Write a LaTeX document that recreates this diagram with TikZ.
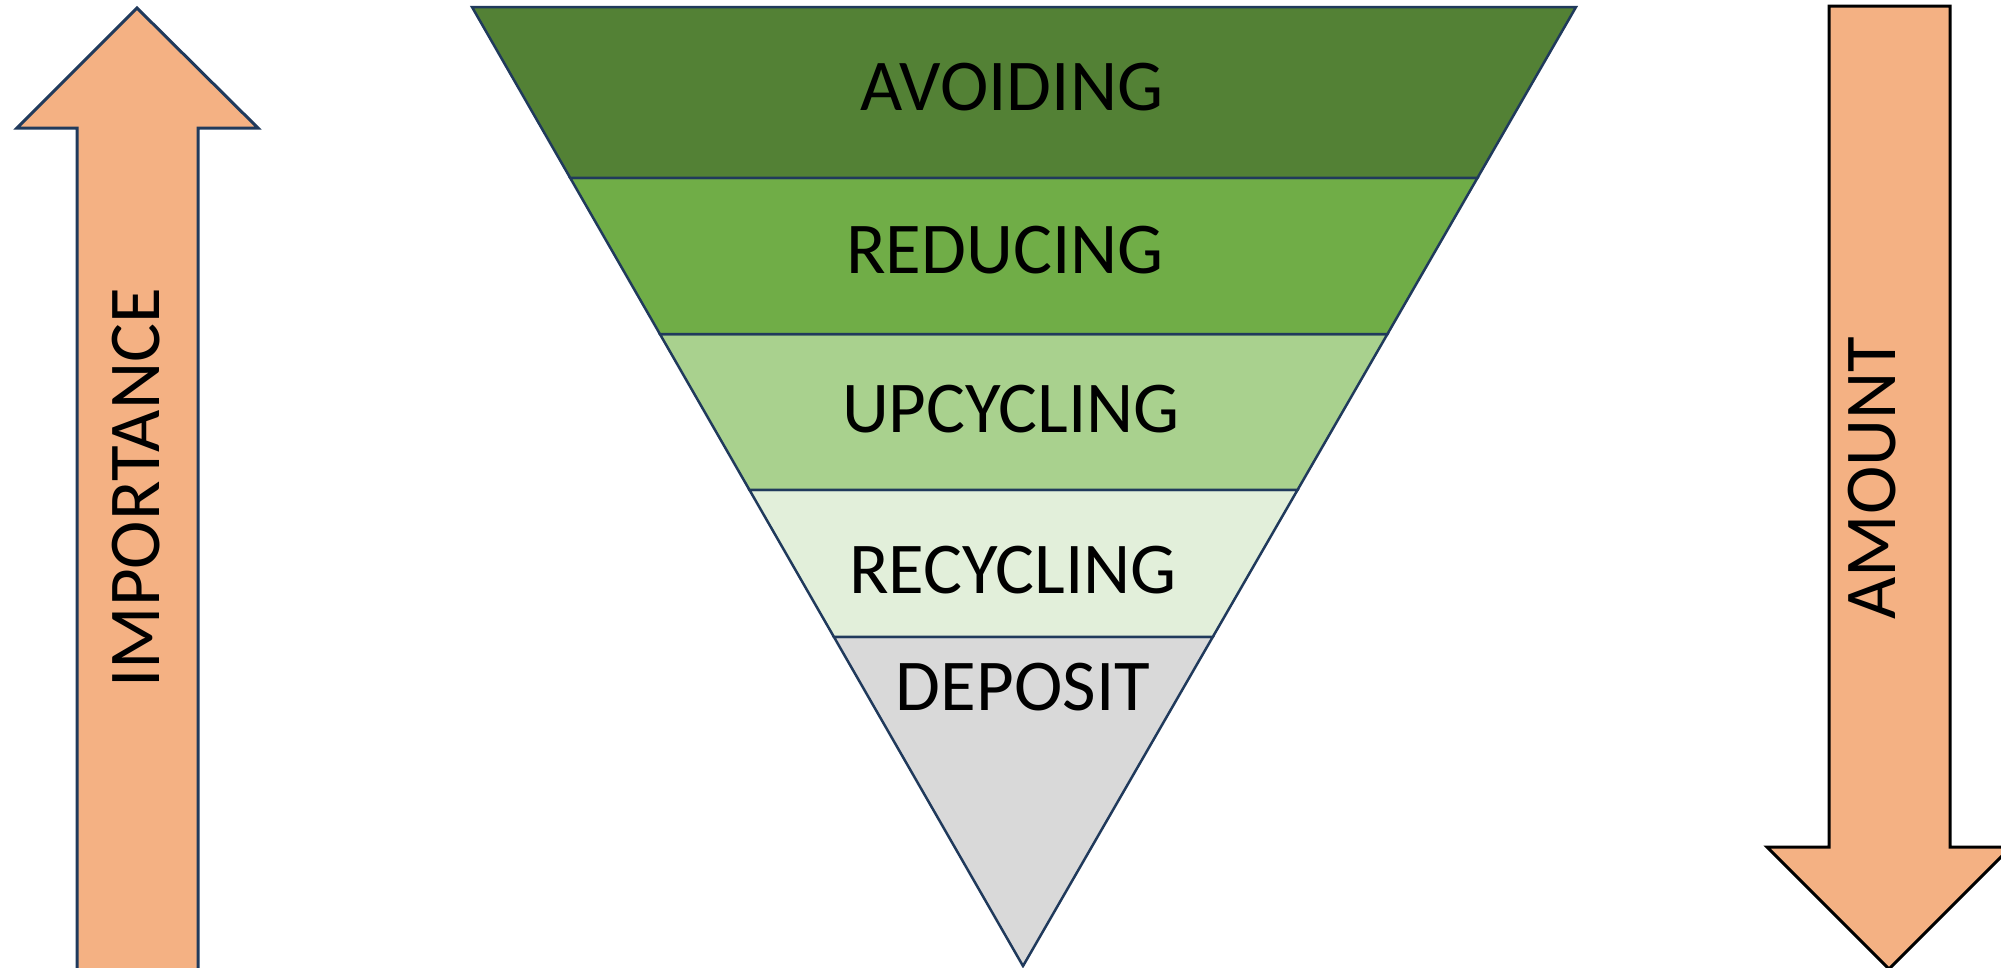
\documentclass[tikz,border=0pt]{standalone}
\usepackage{fontspec}
\setmainfont{Carlito}
\usetikzlibrary{calc}
\definecolor{arrowfill}{HTML}{F4B183}
\definecolor{navy}{HTML}{203A5C}
\definecolor{gA}{HTML}{538135}
\definecolor{gB}{HTML}{70AD47}
\definecolor{gC}{HTML}{A9D18E}
\definecolor{gD}{HTML}{E2EFDA}
\definecolor{gE}{HTML}{D9D9D9}
\tikzset{
  band/.style={draw=navy, line width=2.5pt, line join=miter},
  bigarrow/.style={fill=arrowfill, line width=3pt, line join=miter},
  label/.style={font=\fontsize{73}{80}\selectfont, text=black, anchor=base, inner sep=0pt},
}
\begin{document}
\begin{tikzpicture}[x=1pt,y=-1pt]
\useasboundingbox (0,0) rectangle (2001,967);
\clip (0,0) rectangle (2001,967);
\fill[white] (0,0) rectangle (2001,967);
% importance arrow (up)
\draw[bigarrow, draw=navy] (137,8) -- (258,128) -- (198,128) -- (198,990) -- (77,990) -- (77,128) -- (17,128) -- cycle;
% amount arrow (down)
\draw[bigarrow, draw=black] (1829,6) -- (1950,6) -- (1950,847) -- (2011,847) -- (1889,969) -- (1767,847) -- (1829,847) -- cycle;
% pyramid
\coordinate (TL) at (472,7);
\coordinate (TR) at (1576,7);
\coordinate (B) at (1023,966);
\coordinate (L1) at ($(TL)!0.1783!(B)$);
\coordinate (R1) at ($(TR)!0.1783!(B)$);
\coordinate (L2) at ($(TL)!0.3410!(B)$);
\coordinate (R2) at ($(TR)!0.3410!(B)$);
\coordinate (L3) at ($(TL)!0.5036!(B)$);
\coordinate (R3) at ($(TR)!0.5036!(B)$);
\coordinate (L4) at ($(TL)!0.6569!(B)$);
\coordinate (R4) at ($(TR)!0.6569!(B)$);
\filldraw[band, fill=gE] (L4) -- (R4) -- (B) -- cycle;
\filldraw[band, fill=gD] (L3) -- (R3) -- (R4) -- (L4) -- cycle;
\filldraw[band, fill=gC] (L2) -- (R2) -- (R3) -- (L3) -- cycle;
\filldraw[band, fill=gB] (L1) -- (R1) -- (R2) -- (L2) -- cycle;
\filldraw[band, fill=gA] (TL) -- (TR) -- (R1) -- (L1) -- cycle;
% labels
\node[label] (avoid) at (1012,110) {AVOIDING};
\node[label] (reduce) at (1005,273) {REDUCING};
\node[label] (upcyc) at (1011,432) {UPCYCLING};
\node[label] (recyc) at (1013,593) {RECYCLING};
\node[label] (depo) at (1023,710) {DEPOSIT};
\node[label, rotate=90] (imp) at (159,488) {IMPORTANCE};
\node[label, rotate=90] (amt) at (1895,478) {AMOUNT};
\end{tikzpicture}
\end{document}
